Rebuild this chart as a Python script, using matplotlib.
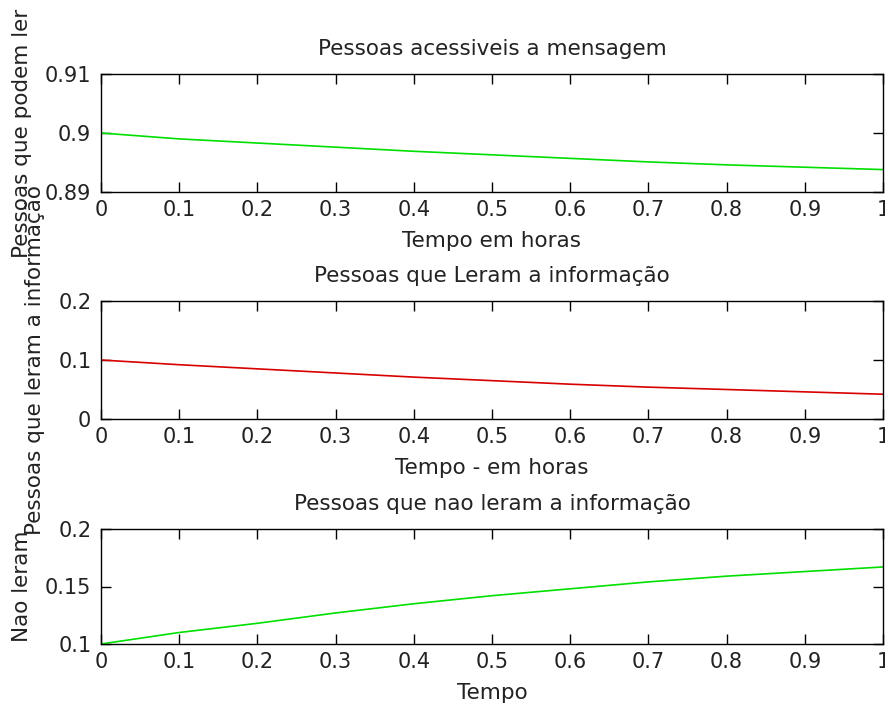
import numpy as np
import matplotlib
matplotlib.use("Agg")
import matplotlib.pyplot as plt

# Time axis (hours) and the three population fractions
tempo = [0.0, 0.1, 0.2, 0.3, 0.4, 0.5, 0.6, 0.7, 0.8, 0.9, 1.0]
acessiveis = [0.9000, 0.8990, 0.8983, 0.8976, 0.8969, 0.8963, 0.8957, 0.8951, 0.8946, 0.8942, 0.8938]
leram = [0.100, 0.092, 0.085, 0.078, 0.071, 0.065, 0.059, 0.054, 0.050, 0.046, 0.042]
nao_leram = [0.100, 0.110, 0.118, 0.127, 0.135, 0.142, 0.148, 0.154, 0.159, 0.163, 0.167]

xticks = [0, 0.1, 0.2, 0.3, 0.4, 0.5, 0.6, 0.7, 0.8, 0.9, 1]
xtick_labels = ["0", "0.1", "0.2", "0.3", "0.4", "0.5", "0.6", "0.7", "0.8", "0.9", "1"]

plt.rcParams["font.family"] = ["DejaVu Sans"]
FS = 15
W, H = 885, 709
fig = plt.figure(figsize=(W / 100, H / 100), dpi=100)
fig.patch.set_facecolor("white")


def make_axes(top, bottom):
    left, right = 101, 883
    return fig.add_axes([left / W, (H - bottom) / H, (right - left) / W, (bottom - top) / H])


panels = [
    dict(box=(74, 192), y=acessiveis, color="#00e000", ylim=(0.89, 0.91),
         yticks=[0.89, 0.9, 0.91], ytl=["0.89", "0.9", "0.91"],
         title="Pessoas acessiveis a mensagem", xlabel="Tempo em horas",
         ylabel="Pessoas que podem ler", ylx=-0.088),
    dict(box=(301, 419), y=leram, color="#d80000", ylim=(0, 0.2),
         yticks=[0, 0.1, 0.2], ytl=["0", "0.1", "0.2"],
         title="Pessoas que Leram a informação", xlabel="Tempo - em horas",
         ylabel="Pessoas que leram a informação", ylx=-0.071),
    dict(box=(529, 644), y=nao_leram, color="#00e000", ylim=(0.1, 0.2),
         yticks=[0.1, 0.15, 0.2], ytl=["0.1", "0.15", "0.2"],
         title="Pessoas que nao leram a informação", xlabel="Tempo",
         ylabel="Nao leram", ylx=-0.088),
]

for p in panels:
    ax = make_axes(*p["box"])
    ax.plot(tempo, p["y"], color=p["color"], lw=1.2)
    ax.set_xlim(0, 1)
    ax.set_ylim(*p["ylim"])
    ax.set_xticks(xticks)
    ax.set_xticklabels(xtick_labels)
    ax.set_yticks(p["yticks"])
    ax.set_yticklabels(p["ytl"])
    ax.tick_params(direction="in", length=7, width=1, top=True, right=True,
                   labelsize=FS, colors="black", labelcolor="#222222")
    ax.tick_params(axis="x", pad=6)
    ax.tick_params(axis="y", pad=7)
    for sp in ax.spines.values():
        sp.set_linewidth(1)
        sp.set_color("black")
    ax.set_title(p["title"], fontsize=FS + 0.5, pad=14, color="#222222")
    ax.set_xlabel(p["xlabel"], fontsize=FS + 0.5, labelpad=8, color="#222222")
    ax.set_ylabel(p["ylabel"], fontsize=FS + 0.5, color="#222222")
    ax.yaxis.set_label_coords(p["ylx"], 0.5)

fig.savefig("out.png", dpi=100, facecolor="white")
